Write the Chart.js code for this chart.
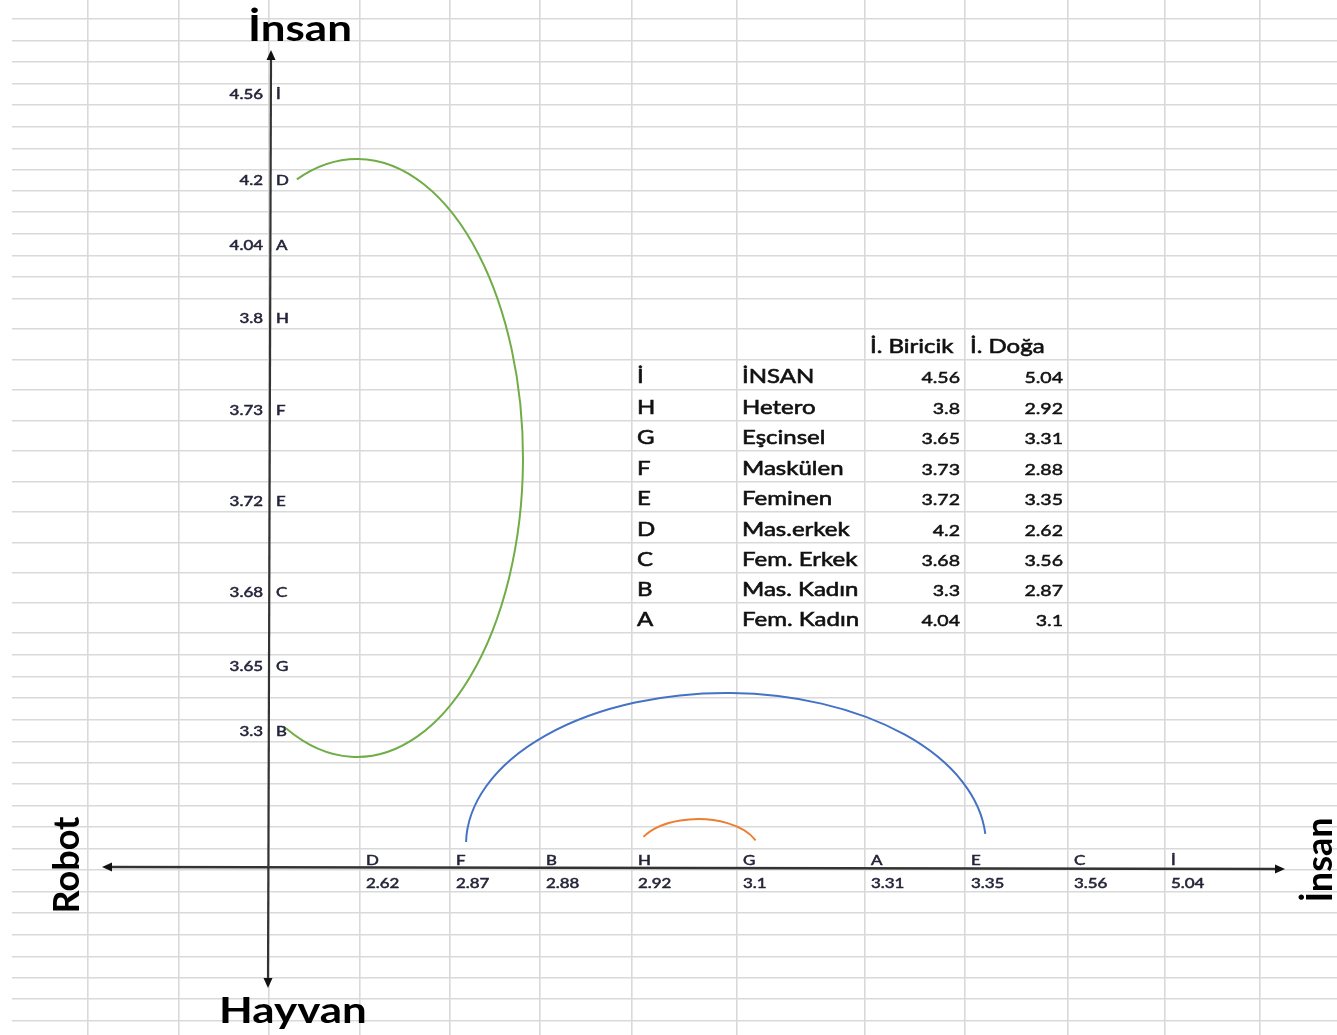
<!DOCTYPE html>
<html>
<head>
<meta charset="utf-8">
<title>İnsan - Robot - Hayvan</title>
<script src="https://cdn.jsdelivr.net/npm/chart.js@4"></script>
<style>
html,body{margin:0;padding:0;background:#fff}
#wrap{width:1337px;height:1035px;position:relative}
</style>
</head>
<body>
<div id="wrap"><canvas id="sheet"></canvas></div>
<script>
// ===== DATA =====
const letters=['İ','H','G','F','E','D','C','B','A']
const names=['İNSAN','Hetero','Eşcinsel','Maskülen','Feminen','Mas.erkek','Fem. Erkek','Mas. Kadın','Fem. Kadın']
const biricik=[4.56,3.8,3.65,3.73,3.72,4.2,3.68,3.3,4.04]
const doga=[5.04,2.92,3.31,2.88,3.35,2.62,3.56,2.87,3.1]
const headers=['İ. Biricik','İ. Doğa']

// ticks as written along the two drawn axes
const yTickValues=[4.56,4.2,4.04,3.8,3.73,3.72,3.68,3.65,3.3]
const yTickLetters=['İ','D','A','H','F','E','C','G','B']
const xTickValues=[2.62,2.87,2.88,2.92,3.1,3.31,3.35,3.56,5.04]
const xTickLetters=['D','F','B','H','G','A','E','C','İ']

// axis titles
const titleTop='İnsan', titleBottom='Hayvan', titleLeft='Robot', titleRight='İnsan'

// ===== SHEET LAYOUT (cell edges, px on the sheet) =====
const colEdges=[88,179,269,360,450,540,632,737,865,965,1068,1165,1260]
const rowEdges=[19,41,62,84,105,127,149,170,191,212,234,256,277,299,329,360,390,421,451,482,512,543,573,603,633,655,677,698,720,742,763,784,806,827,849,870,892,913,935,957,978,999,1021]
const yTickRows=[4,8,11,14,17,20,23,26,29]   // row (bottom edge index) of each y tick
const xTickCol=3                               // first column of x ticks
const tableCols={letter:6,name:7,b:9,d:10}     // b,d = right edge index
const headerRow=15

// arcs joining two ticks: ellipse (sheet px)
const arcs=[
  {color:'#70ad47',cx:357,cy:458,rx:166,ry:299,from:[297,180],to:[285,732]},
  {color:'#4472c4',cx:726,cy:845,rx:260,ry:152,from:[467,842],to:[985,834]},
  {color:'#ed7d31',cx:698,cy:853,rx:62,ry:34,from:[644,837],to:[753,841]}
]

function txt(ctx,s,x,y,font,align,sx,color,weight){
  ctx.save()
  ctx.font=font
  ctx.fillStyle=color||'#222'
  ctx.strokeStyle=color||'#222'
  ctx.textBaseline='alphabetic'
  ctx.translate(x,y)
  ctx.scale(sx,1)
  ctx.textAlign=align||'left'
  ctx.fillText(s,0,0)
  if(weight){ctx.lineWidth=weight;ctx.strokeText(s,0,0)}
  ctx.restore()
}

function arrow(ctx,x,y,dir){
  ctx.save()
  ctx.translate(x,y)
  ctx.rotate(dir)
  ctx.beginPath()
  ctx.moveTo(0,0)
  ctx.lineTo(-10,-4.5)
  ctx.lineTo(-10,4.5)
  ctx.closePath()
  ctx.fill()
  ctx.restore()
}

const drawing={
  id:'drawing',
  afterDraw(chart){
    const ctx=chart.ctx
    const xs=chart.scales.x, ys=chart.scales.y
    const X=v=>xs.getPixelForValue(v), Y=v=>ys.getPixelForValue(v)

    // axes
    ctx.save()
    ctx.strokeStyle='#333'
    ctx.fillStyle='#111'
    ctx.lineWidth=2.2
    ctx.beginPath()
    ctx.moveTo(X(271),Y(58));ctx.lineTo(X(268),Y(980))
    ctx.stroke()
    ctx.lineWidth=2.6
    ctx.beginPath()
    ctx.moveTo(X(109),Y(867));ctx.lineTo(X(1277),Y(869))
    ctx.stroke()
    arrow(ctx,X(271),Y(50),-Math.PI/2)
    arrow(ctx,X(268),Y(988),Math.PI/2)
    arrow(ctx,X(102),Y(867),Math.PI)
    arrow(ctx,X(1285),Y(869),0)
    ctx.restore()

    // y ticks
    const small='13px Lato', sc='#24243a'
    yTickValues.forEach((v,i)=>{
      const yb=Y(rowEdges[yTickRows[i]])-6
      txt(ctx,String(v),X(263),yb,small,'right',1.3,sc,0.5)
      txt(ctx,yTickLetters[i],X(276),yb,small,'left',1.3,sc,0.5)
    })
    // x ticks
    xTickValues.forEach((v,i)=>{
      const x=X(colEdges[xTickCol+i]+6)
      txt(ctx,xTickLetters[i],x,Y(865),small,'left',1.3,sc,0.5)
      txt(ctx,String(v),x,Y(888),small,'left',1.3,sc,0.5)
    })

    // table
    const big='20px Lato', num='16px Lato', tc='#111'
    const hy=Y(rowEdges[headerRow])-7
    txt(ctx,headers[0],X(colEdges[tableCols.b-1]+5),hy,big,'left',1.2,tc,0.6)
    txt(ctx,headers[1],X(colEdges[tableCols.d-1]+5),hy,big,'left',1.2,tc,0.6)
    letters.forEach((l,i)=>{
      const yb=Y(rowEdges[headerRow+1+i])-7
      txt(ctx,l,X(colEdges[tableCols.letter]+5),yb,big,'left',1.2,tc,0.6)
      txt(ctx,names[i],X(colEdges[tableCols.name]+5),yb,big,'left',1.2,tc,0.6)
      txt(ctx,String(biricik[i]),X(colEdges[tableCols.b]-5),yb,num,'right',1.22,tc,0.5)
      txt(ctx,String(doga[i]),X(colEdges[tableCols.d]-5),yb,num,'right',1.22,tc,0.5)
    })

    // arcs
    arcs.forEach(a=>{
      const cx=X(a.cx), cy=Y(a.cy)
      const rx=X(a.cx+a.rx)-cx, ry=Y(a.cy+a.ry)-cy
      const a0=Math.atan2((Y(a.from[1])-cy)/ry,(X(a.from[0])-cx)/rx)
      const a1=Math.atan2((Y(a.to[1])-cy)/ry,(X(a.to[0])-cx)/rx)
      ctx.save()
      ctx.strokeStyle=a.color
      ctx.lineWidth=2
      ctx.beginPath()
      ctx.ellipse(cx,cy,rx,ry,0,a0,a1,false)
      ctx.stroke()
      ctx.restore()
    })

    // titles
    const tf='bold 36px Lato'
    txt(ctx,titleTop,X(300),Y(41),tf,'center',1.22,'#000')
    txt(ctx,titleBottom,X(293),Y(1023),tf,'center',1.22,'#000')
    ctx.save()
    ctx.translate(X(79),Y(865))
    ctx.rotate(-Math.PI/2)
    ctx.font=tf;ctx.fillStyle='#000';ctx.textAlign='center'
    ctx.fillText(titleLeft,0,0)
    ctx.restore()
    ctx.save()
    ctx.translate(X(1332),Y(860))
    ctx.rotate(-Math.PI/2)
    ctx.font=tf;ctx.fillStyle='#000';ctx.textAlign='center'
    ctx.fillText(titleRight,0,0)
    ctx.restore()
  }
}

new Chart(document.getElementById('sheet'),{
  type:'scatter',
  data:{datasets:[]},
  options:{
    responsive:true,
    maintainAspectRatio:false,
    animation:false,
    layout:{padding:{left:12,top:0,right:0,bottom:0}},
    plugins:{legend:{display:false},tooltip:{enabled:false},title:{display:false}},
    scales:{
      x:{
        type:'linear',min:12,max:1337,
        border:{display:false},
        ticks:{display:false},
        grid:{color:'#d9d9d9',lineWidth:1.6,drawTicks:false},
        afterBuildTicks:s=>{s.ticks=colEdges.map(v=>({value:v}))}
      },
      y:{
        type:'linear',min:0,max:1035,reverse:true,
        border:{display:false},
        ticks:{display:false},
        grid:{color:'#d9d9d9',lineWidth:1.6,drawTicks:false},
        afterBuildTicks:s=>{s.ticks=rowEdges.map(v=>({value:v}))}
      }
    }
  },
  plugins:[drawing]
})
</script>
</body>
</html>
